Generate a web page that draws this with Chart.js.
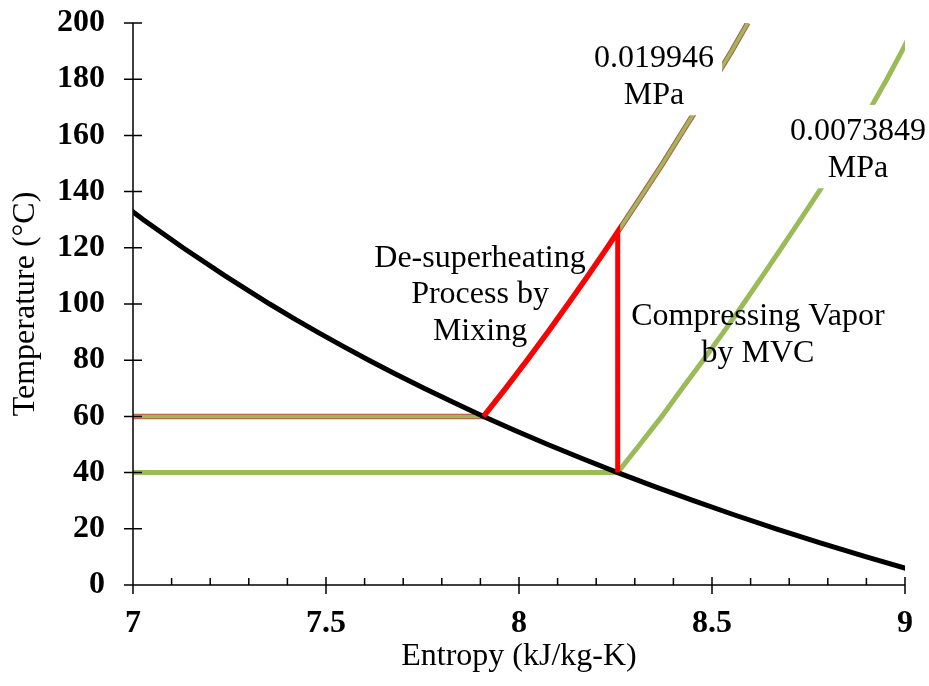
<!DOCTYPE html>
<html>
<head>
<meta charset="utf-8">
<title>Temperature–Entropy diagram</title>
<script src="https://cdn.jsdelivr.net/npm/chart.js@4/dist/chart.umd.min.js"></script>
<style>
  html, body { margin: 0; padding: 0; background: #ffffff; }
  #wrap { width: 929px; height: 686px; }
</style>
</head>
<body>
<div id="wrap"><canvas id="chart" width="929" height="686"></canvas></div>
<script>
// ---- Data -------------------------------------------------------------
// Saturated vapour line: temperature (°C) and entropy s_g (kJ/kg-K)
const satTemp = [140, 130, 120, 110, 100, 95, 90, 85, 80, 75, 70, 65, 60, 55, 50, 45, 40, 35, 30, 25, 20, 15, 10, 5];
const satEntropy = [6.9299, 7.0269, 7.1296, 7.2387, 7.3542, 7.4151, 7.4781, 7.5434, 7.6111, 7.6812, 7.7540, 7.8296,
                    7.9081, 7.9898, 8.0748, 8.1634, 8.2557, 8.3517, 8.4520, 8.5567, 8.6661, 8.7803, 8.8999, 9.0249];

// Isobar 0.019946 MPa (saturation at 60 °C): two-phase part then superheated vapour
const hiPressTemp = [60, 60, 70, 80, 90, 100, 110, 120, 125.7, 130, 140, 150, 160, 170, 180, 190, 200];
const hiPressEntropy = [6.9, 7.9081, 7.9656, 8.0210, 8.0749, 8.1270, 8.1784, 8.2281, 8.2557, 8.2766, 8.3249,
                        8.3724, 8.4177, 8.4634, 8.5068, 8.5509, 8.5926];

// Isobar 0.0073849 MPa (saturation at 40 °C)
const loPressTemp = [40, 40, 50, 60, 70, 80, 90, 100, 110, 120, 130, 140, 150, 160, 170, 180, 190, 200];
const loPressEntropy = [6.9, 8.2557, 8.313, 8.370, 8.423, 8.477, 8.530, 8.581, 8.631, 8.680, 8.729, 8.777,
                        8.824, 8.869, 8.912, 8.953, 8.992, 9.030];

// De-superheating by mixing runs along the high-pressure isobar from 60 °C to 125.7 °C,
// then the vapour compression (MVC) drops vertically back to 40 °C
const mixStartIndex = 1;
const mixEndIndex = 8;
const mvcEndTemp = 40;

// Axis ticks
const xTickValues = [7, 7.5, 8, 8.5, 9];
const xTickLabels = ['7', '7.5', '8', '8.5', '9'];
const yTickValues = [0, 20, 40, 60, 80, 100, 120, 140, 160, 180, 200];
const yTickLabels = ['0', '20', '40', '60', '80', '100', '120', '140', '160', '180', '200'];

// ---- Helpers ----------------------------------------------------------
function toPoints(xs, ys) {
  return xs.map((x, i) => ({ x: x, y: ys[i] }));
}

const satPoints = toPoints(satEntropy, satTemp);
const hiPoints = toPoints(hiPressEntropy, hiPressTemp);
const loPoints = toPoints(loPressEntropy, loPressTemp);
const processPoints = hiPoints.slice(mixStartIndex, mixEndIndex + 1)
  .concat([{ x: hiPressEntropy[mixEndIndex], y: mvcEndTemp }]);

const SERIF = '"Liberation Serif", "Times New Roman", Times, serif';
const GREEN = '#9BBB59';
const DARK_RED = '#C0504D';

// Text annotations anchored in data coordinates (entropy, temperature of first baseline)
const annotations = [
  { lines: ['De-superheating', 'Process by', 'Mixing'], s: 7.899, t: 113.3, box: false },
  { lines: ['Compressing Vapor', 'by MVC'], s: 8.619, t: 92.5, box: false },
  { lines: ['0.019946', 'MPa'], s: 8.350, t: 184.4, box: true },
  { lines: ['0.0073849', 'MPa'], s: 8.878, t: 158.4, box: true }
];

// Text annotations with optional white backing box
const annotationPlugin = {
  id: 'annotationText',
  afterDatasetsDraw(chart) {
    const ctx = chart.ctx;
    const xs = chart.scales.x, ys = chart.scales.y;
    const lineGap = 36.7;
    ctx.save();
    ctx.font = '32px ' + SERIF;
    ctx.textAlign = 'center';
    ctx.textBaseline = 'alphabetic';
    annotations.forEach(a => {
      const cx = xs.getPixelForValue(a.s);
      const by = ys.getPixelForValue(a.t);
      if (a.box) {
        const w = Math.max(...a.lines.map(l => ctx.measureText(l).width));
        const top = by - 35;
        const bottom = by + (a.lines.length - 1) * lineGap + 11.7;
        ctx.fillStyle = '#ffffff';
        ctx.fillRect(cx - w / 2 - 8, top, w + 16, bottom - top);
      }
      ctx.fillStyle = '#000000';
      a.lines.forEach((l, i) => ctx.fillText(l, cx, by + i * lineGap));
    });
    ctx.restore();
  }
};

// Axis lines with cross ticks and minor ticks
const axisPlugin = {
  id: 'axisLines',
  afterDraw(chart) {
    const ctx = chart.ctx;
    const xs = chart.scales.x, ys = chart.scales.y;
    const area = chart.chartArea;
    const x0 = xs.getPixelForValue(xs.min);
    const y0 = ys.getPixelForValue(ys.min);
    ctx.save();
    ctx.strokeStyle = '#000000';
    ctx.lineWidth = 1.5;
    ctx.beginPath();
    ctx.moveTo(x0, area.top);
    ctx.lineTo(x0, y0);
    ctx.lineTo(area.right, y0);
    // y major ticks (crossing the axis)
    yTickValues.forEach(v => {
      const py = ys.getPixelForValue(v);
      ctx.moveTo(x0 - 9, py);
      ctx.lineTo(x0 + 9, py);
    });
    // x major ticks (crossing) and minor ticks (inside only)
    for (let k = 0; k <= 20; k++) {
      const v = xs.min + k * 0.1;
      const px = xs.getPixelForValue(v);
      if (k % 5 === 0) {
        ctx.moveTo(px, y0 - 8);
        ctx.lineTo(px, y0 + 9);
      } else {
        ctx.moveTo(px, y0 - 7);
        ctx.lineTo(px, y0);
      }
    }
    ctx.stroke();
    ctx.restore();
  }
};

const lineDefaults = {
  showLine: true,
  pointRadius: 0,
  pointHoverRadius: 0,
  tension: 0,
  fill: false,
  clip: 0,
  borderJoinStyle: 'miter',
  borderCapStyle: 'butt'
};

new Chart(document.getElementById('chart'), {
  type: 'scatter',
  data: {
    datasets: [
      Object.assign({}, lineDefaults, {
        label: 'Mixing and MVC',
        data: processPoints,
        borderColor: '#FF0000',
        borderWidth: 5,
        order: 0
      }),
      Object.assign({}, lineDefaults, {
        label: 'Saturated vapour',
        data: satPoints,
        borderColor: '#000000',
        borderWidth: 5,
        order: 1
      }),
      Object.assign({}, lineDefaults, {
        label: '0.019946 MPa',
        data: hiPoints,
        borderColor: GREEN,
        borderWidth: 3.5,
        order: 2
      }),
      Object.assign({}, lineDefaults, {
        label: '0.019946 MPa outline',
        data: hiPoints,
        borderColor: DARK_RED,
        borderWidth: 5.5,
        order: 3
      }),
      Object.assign({}, lineDefaults, {
        label: '0.0073849 MPa',
        data: loPoints,
        borderColor: GREEN,
        borderWidth: 5,
        order: 4
      })
    ]
  },
  options: {
    responsive: false,
    animation: false,
    devicePixelRatio: 1,
    layout: { padding: { top: 23, right: 24, left: 0, bottom: 0 } },
    plugins: {
      legend: { display: false },
      tooltip: { enabled: false },
      title: { display: false }
    },
    events: [],
    scales: {
      x: {
        type: 'linear',
        min: 7,
        max: 9,
        grid: { display: false, drawTicks: false },
        border: { display: false },
        afterBuildTicks(scale) {
          scale.ticks = xTickValues.map(v => ({ value: v }));
        },
        afterFit(scale) {
          scale.height = 101;
          scale.paddingLeft = 0;
          scale.paddingRight = 0;
        },
        ticks: {
          autoSkip: false,
          maxRotation: 0,
          padding: 20,
          color: '#000000',
          font: { family: SERIF, size: 32, weight: 'bold' },
          callback(value) {
            const i = xTickValues.indexOf(value);
            return i >= 0 ? xTickLabels[i] : '';
          }
        },
        title: {
          display: true,
          text: 'Entropy (kJ/kg-K)',
          color: '#000000',
          font: { family: SERIF, size: 32 },
          padding: { top: 0, bottom: 10 }
        }
      },
      y: {
        type: 'linear',
        min: 0,
        max: 200,
        grid: { display: false, drawTicks: false },
        border: { display: false },
        afterBuildTicks(scale) {
          scale.ticks = yTickValues.map(v => ({ value: v }));
        },
        afterFit(scale) {
          scale.width = 133;
          scale.paddingTop = 0;
          scale.paddingBottom = 0;
        },
        ticks: {
          autoSkip: false,
          padding: 28,
          color: '#000000',
          font: { family: SERIF, size: 32, weight: 'bold' },
          callback(value) {
            const i = yTickValues.indexOf(value);
            return i >= 0 ? yTickLabels[i] : '';
          }
        },
        title: {
          display: true,
          text: 'Temperature (°C)',
          color: '#000000',
          font: { family: SERIF, size: 32 },
          padding: { top: 6, bottom: 0 }
        }
      }
    }
  },
  plugins: [annotationPlugin, axisPlugin]
});
</script>
</body>
</html>
